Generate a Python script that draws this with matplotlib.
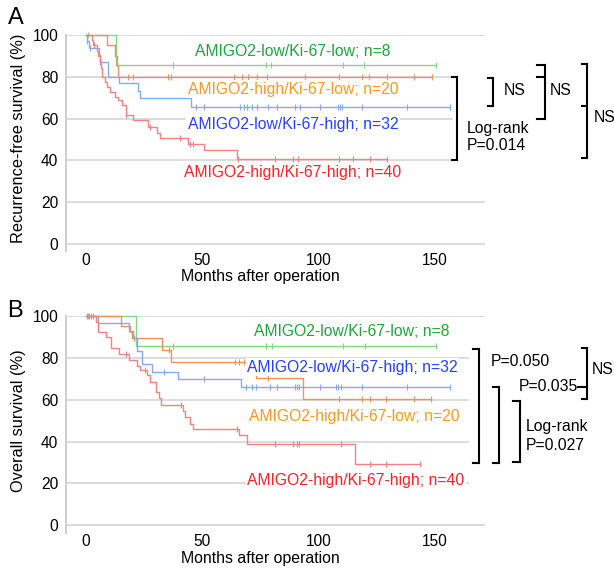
import numpy as np
import matplotlib
matplotlib.use("Agg")
import matplotlib.pyplot as plt

plt.rcParams['font.family'] = ['Liberation Sans', 'DejaVu Sans']
plt.rcParams['font.size'] = 11

# %% Data (months after operation, survival %)
groups = ["AMIGO2-low/Ki-67-low; n=8", "AMIGO2-high/Ki-67-low; n=20",
          "AMIGO2-low/Ki-67-high; n=32", "AMIGO2-high/Ki-67-high; n=40"]
line_colors = ["#86d486", "#f39060", "#86aaf0", "#f58282"]
text_colors = ["#19a83b", "#ff961e", "#2340ff", "#ff2020"]

# Panel A: recurrence-free survival
rfs_green_t = [0, 13.1]
rfs_green_s = [100, 85.7]
rfs_green_end = 150.4
rfs_green_cens = [0.9, 37.7, 77.5, 79.6, 110.6, 119.7, 150.4]

rfs_orange_t = [0, 9.1, 12.7, 13.4, 14.1]
rfs_orange_s = [100, 95, 90, 85, 80]
rfs_orange_end = 148.6
rfs_orange_cens = [18.4, 20.5, 35.5, 36.6, 63.9, 67.0, 69.9, 73.5, 78.0, 94.2,
                   108.9, 118.5, 121.8, 129.3, 141.0, 148.6]

rfs_blue_t = [0, 0.5, 1.6, 5.9, 6.2, 9.8, 14.4, 22.4, 23.4, 45.3]
rfs_blue_s = [100, 96.9, 93.7, 90.3, 87.1, 80, 76.8, 73.4, 69.7, 65.7]
rfs_blue_end = 156.4
rfs_blue_cens = [0.8, 1.9, 6.3, 47.3, 50.9, 66.3, 68.2, 69.5, 71.4, 73.6, 78.3,
                 82.2, 89.9, 92.1, 100.6, 108.4, 109.2, 109.9, 118.9, 138.1, 156.4]

rfs_red_t = [0, 2.7, 3.3, 4.8, 5.5, 6.2, 6.7, 7.1, 8.4, 9.4, 10.5, 12.7, 14.1,
             15.8, 17.4, 20.5, 27.0, 30.6, 32.0, 44.1, 50.9, 65.2]
rfs_red_s = [100, 97.5, 95, 92.5, 90, 87.5, 84, 80, 77.5, 75.2, 72.7, 70.5, 68.7,
             66.5, 61.7, 59.2, 56.1, 53, 50.6, 47.8, 44.8, 40.6]
rfs_red_end = 129.4
rfs_red_cens = [3.8, 6.4, 17.6, 27.5, 40.6, 44.9, 46.3, 65.6, 81.3, 89.2, 91.3,
                108.9, 114.9, 122.1, 129.4]

# Panel B: overall survival
os_green_t = [0, 21.5]
os_green_s = [100, 85.7]
os_green_end = 150.4
os_green_cens = [0.9, 37.7, 77.5, 79.9, 110.6, 120.0, 150.4]

os_orange_t = [0, 15.2, 19.1, 19.8, 32.7, 36.8, 73.0, 93.5]
os_orange_s = [100, 95, 92.3, 89.3, 83.8, 78, 70.2, 60.2]
os_orange_end = 148.4
os_orange_cens = [18.5, 20.8, 35.8, 64.2, 65.8, 68.1, 78.2, 108.9, 118.7, 122.0,
                  129.2, 141.2, 148.4]

os_blue_t = [0, 5.5, 18.8, 20.3, 22.0, 24.3, 28.5, 39.6, 66.7]
os_blue_s = [100, 96.6, 93, 89.7, 83.2, 77.2, 73.2, 69.8, 65.9]
os_blue_end = 156.4
os_blue_cens = [0.8, 1.6, 2.2, 33.5, 50.9, 69.1, 71.5, 73.2, 79.2, 82.3, 89.9,
                91.0, 91.8, 100.6, 107.5, 108.5, 109.5, 118.8, 138.1, 156.4]

os_red_t = [0, 4.5, 5.2, 8.9, 10.9, 14.4, 18.5, 22.2, 23.4, 26.5, 27.7, 30.3,
            31.7, 32.5, 41.7, 42.8, 44.8, 46.1, 66.0, 69.2, 115.7]
os_red_s = [100, 97.2, 92.5, 89.8, 84.5, 82, 79.2, 76.2, 74.3, 71.8, 68.6, 63.6,
            60.6, 57.4, 54.5, 51.5, 48.3, 46, 43.1, 38.8, 29.5]
os_red_end = 143.6
os_red_cens = [3.1, 17.4, 25.6, 40.8, 64.9, 81.3, 89.2, 91.0, 91.8, 109.7, 122.0,
               129.1, 143.6]

yticks = [0, 20, 40, 60, 80, 100]
xticks = [0, 50, 100, 150]

# label positions (data coords) in the order of `groups`
rfs_label_xy = [(89.1, 91.9), (89.1, 74.0), (89.1, 57.4), (89.1, 34.3)]
os_label_xy = [(114.4, 92.8), (115.2, 52.2), (114.7, 75.5), (116.1, 21.2)]

W, H = 614, 570
fig = plt.figure(figsize=(W / 100, H / 100), dpi=100)


def px(x, y):
    return x / W, 1 - y / H


def km(ax, t, s, end, cens, color):
    tt = list(t) + [end]
    ss = list(s) + [s[-1]]
    ax.step(tt, ss, where="post", color=color, lw=1.0, zorder=3, clip_on=False)
    idx = np.searchsorted(t, cens, side="right") - 1
    ax.plot(cens, np.array(s)[idx], ls="none", marker="|", ms=4.5, mew=0.8,
            color=color, zorder=3, clip_on=False)


def setup(ax, grid_short, short_frac):
    ax.set_xlim(-8.5, 171.5)
    ax.set_ylim(-3.5, 100)
    for y in yticks:
        frac = short_frac if y in grid_short else 1.0
        ax.axhline(y, 0, frac, color="#d9d9d9", lw=1.3, zorder=0)
    for side in ["top", "right", "bottom"]:
        ax.spines[side].set_visible(False)
    ax.spines["left"].set_color("#cccccc")
    ax.spines["left"].set_linewidth(1.3)
    ax.set_yticks(yticks)
    ax.set_xticks(xticks)
    ax.tick_params(axis="y", length=0, pad=5.3, labelsize=11.2)
    ax.tick_params(axis="x", length=0, pad=1, labelsize=11.2)


axA = fig.add_axes([65.7 / W, 1 - 251.3 / H, 419.3 / W, 216.3 / H])
axB = fig.add_axes([65.7 / W, 1 - 532.6 / H, 419.3 / W, 216.6 / H])
setup(axA, [40, 60, 80], (452 - 65.7) / 419.3)
setup(axB, [20, 40, 60, 80], (468 - 65.7) / 419.3)

rfs = [(rfs_green_t, rfs_green_s, rfs_green_end, rfs_green_cens),
       (rfs_orange_t, rfs_orange_s, rfs_orange_end, rfs_orange_cens),
       (rfs_blue_t, rfs_blue_s, rfs_blue_end, rfs_blue_cens),
       (rfs_red_t, rfs_red_s, rfs_red_end, rfs_red_cens)]
osv = [(os_green_t, os_green_s, os_green_end, os_green_cens),
       (os_orange_t, os_orange_s, os_orange_end, os_orange_cens),
       (os_blue_t, os_blue_s, os_blue_end, os_blue_cens),
       (os_red_t, os_red_s, os_red_end, os_red_cens)]

for ax, curves, labels_xy in [(axA, rfs, rfs_label_xy), (axB, osv, os_label_xy)]:
    for (t, s, end, cens), lc, tc, name, (lx, ly) in zip(curves, line_colors, text_colors,
                                                         groups, labels_xy):
        km(ax, t, s, end, cens, lc)
        ax.text(lx, ly, name, color=tc, fontsize=11.3, ha="center", va="center", zorder=5,
                bbox=dict(facecolor="white", edgecolor="none", pad=1.0))

# axis labels and panel letters
fig.text(*px(19, 138), "Recurrence-free survival (%)", rotation=90, ha="center",
         va="center", fontsize=11.8)
fig.text(*px(19, 421), "Overall survival (%)", rotation=90, ha="center", va="center",
         fontsize=11.8)
fig.text(*px(260, 277), "Months after operation", ha="center", va="center", fontsize=11.4)
fig.text(*px(260, 559), "Months after operation", ha="center", va="center", fontsize=11.4)
fig.text(*px(16, 18.5), "A", fontsize=17, ha="center", va="center")
fig.text(*px(15, 310.8), "B", fontsize=17, ha="center", va="center")

# significance brackets drawn on a pixel overlay
ov = fig.add_axes([0, 0, 1, 1], zorder=10)
ov.set_xlim(0, W)
ov.set_ylim(H, 0)
ov.axis("off")


def bracket(x, y0, y1, ticks, x_left):
    ov.plot([x, x], [y0, y1], color="black", lw=1.5, solid_capstyle="projecting")
    for ty in ticks:
        ov.plot([x_left, x], [ty, ty], color="black", lw=1.5, solid_capstyle="projecting")


# panel A
bracket(456.7, 77.3, 160, [77.3, 160], 451.7)
ov.text(466.7, 128.3, "Log-rank", ha="left", va="center", fontsize=11.3)
ov.text(466.7, 145.7, "P=0.014", ha="left", va="center", fontsize=11.3)
bracket(493.3, 78.3, 106, [78.3, 106], 488)
ov.text(504, 90.7, "NS", ha="left", va="center", fontsize=11.3)
bracket(545, 65, 119.3, [65, 77.3, 119.3], 537)
ov.text(550, 90.7, "NS", ha="left", va="center", fontsize=11.3)
bracket(587.3, 64.3, 158.3, [64.3, 106, 158.3], 582)
ov.text(593.3, 118, "NS", ha="left", va="center", fontsize=11.3)

# panel B
bracket(479.3, 349, 462.7, [349, 462.7], 473.3)
ov.text(490.7, 361.7, "P=0.050", ha="left", va="center", fontsize=11.3)
bracket(499.3, 387.3, 462.7, [387.3, 462.7], 493.3)
bracket(520, 400.7, 461.7, [400.7, 461.7], 513.3)
ov.text(526, 426.7, "Log-rank", ha="left", va="center", fontsize=11.3)
ov.text(526, 445, "P=0.027", ha="left", va="center", fontsize=11.3)
bracket(587.3, 347.7, 399.3, [347.7, 399.3], 581.7)
ov.plot([578, 587.3], [386.7, 386.7], color="black", lw=1.5)
ov.text(518.3, 386.7, "P=0.035", ha="left", va="center", fontsize=11.3)
ov.text(591.7, 370, "NS", ha="left", va="center", fontsize=11.3)

fig.savefig("out.png", dpi=100)
